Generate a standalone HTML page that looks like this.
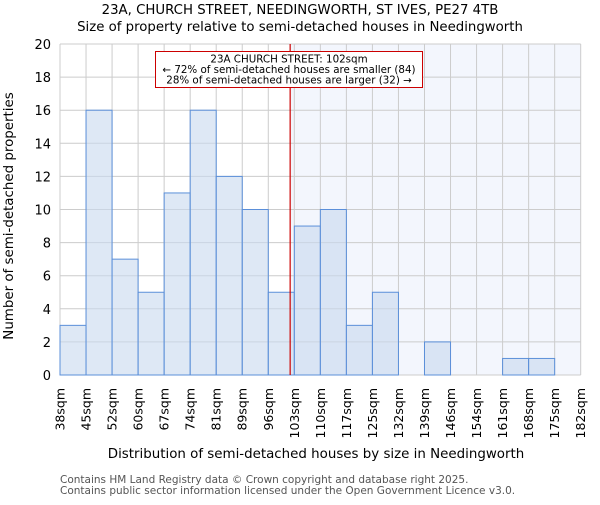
<!DOCTYPE html>
<html><head><meta charset="utf-8"><style>
body{margin:0;background:#fff;}
svg text{font-family:"DejaVu Sans","Liberation Sans",sans-serif;}
</style></head><body>
<svg id="chart" width="600" height="500" xmlns="http://www.w3.org/2000/svg">
<text x="300" y="14" text-anchor="middle" font-size="13.3">23A, CHURCH STREET, NEEDINGWORTH, ST IVES, PE27 4TB</text>
<text x="300" y="31" text-anchor="middle" font-size="13.3">Size of property relative to semi-detached houses in Needingworth</text>
<g id="plot"></g>
<text x="316" y="458" text-anchor="middle" font-size="13.4">Distribution of semi-detached houses by size in Needingworth</text>
<text transform="translate(13,216) rotate(-90)" text-anchor="middle" font-size="13.4">Number of semi-detached properties</text>
<text x="60" y="483" font-size="10.5" fill="#555">Contains HM Land Registry data © Crown copyright and database right 2025.</text>
<text x="60" y="494" font-size="10.5" fill="#555">Contains public sector information licensed under the Open Government Licence v3.0.</text>
</svg>
<script>
const labels=["38sqm","45sqm","52sqm","60sqm","67sqm","74sqm","81sqm","89sqm","96sqm","103sqm","110sqm","117sqm","125sqm","132sqm","139sqm","146sqm","154sqm","161sqm","168sqm","175sqm","182sqm"];
const counts=[3,16,7,5,11,16,12,10,5,9,10,3,5,0,2,0,0,1,1,0];
const yTicks=[0,2,4,6,8,10,12,14,16,18,20];
const markerBin=8.84;
const annotation=["23A CHURCH STREET: 102sqm","← 72% of semi-detached houses are smaller (84)","28% of semi-detached houses are larger (32) →"];
const NS="http://www.w3.org/2000/svg";
const L=60,R=580.7,T=44,B=375,yMax=20;
const nb=counts.length;
const x=i=>L+(R-L)*i/nb;
const y=v=>B-(B-T)*v/yMax;
const g=document.getElementById('plot');
function mk(t,a){const e=document.createElementNS(NS,t);for(const k in a)e.setAttribute(k,a[k]);g.appendChild(e);return e;}
let e;
e=mk('rect',{x:L,y:T,width:R-L,height:B-T,fill:'#fff'});


const mx=x(markerBin);
e=mk('rect',{x:mx,y:T,width:R-mx,height:B-T,fill:'#f3f6fd'});


for(let i=0;i<=nb;i++){e=mk('line',{x1:x(i),x2:x(i),y1:T,y2:B,stroke:'#cccccc','stroke-width':1});

}
yTicks.forEach(v=>{e=mk('line',{x1:L,x2:R,y1:y(v),y2:y(v),stroke:'#cccccc','stroke-width':1});


e=mk('text',{x:L-9,y:y(v)+5,'text-anchor':'end','font-size':13});e.textContent=v;

});
counts.forEach((c,i)=>{if(c<=0)return;
e=mk('rect',{x:x(i),y:y(c),width:x(i+1)-x(i),height:B-y(c),fill:'rgba(200,216,238,0.6)',stroke:'#5b8fd9','stroke-width':1});

});
labels.forEach((l,i)=>{e=mk('text',{transform:`translate(${x(i)+4.5},388) rotate(-90)`,'text-anchor':'end','font-size':12.5});e.textContent=l;

});
e=mk('line',{x1:mx,x2:mx,y1:T,y2:B,stroke:'#cc0000','stroke-width':1.2});


e=mk('rect',{x:155.5,y:51.5,width:267,height:36,fill:'#fff',stroke:'#cc0000','stroke-width':1});


annotation.forEach((t,i)=>{e=mk('text',{x:289,y:62.5+i*10.5,'text-anchor':'middle','font-size':10.3});e.textContent=t;

});
</script>
</body></html>
